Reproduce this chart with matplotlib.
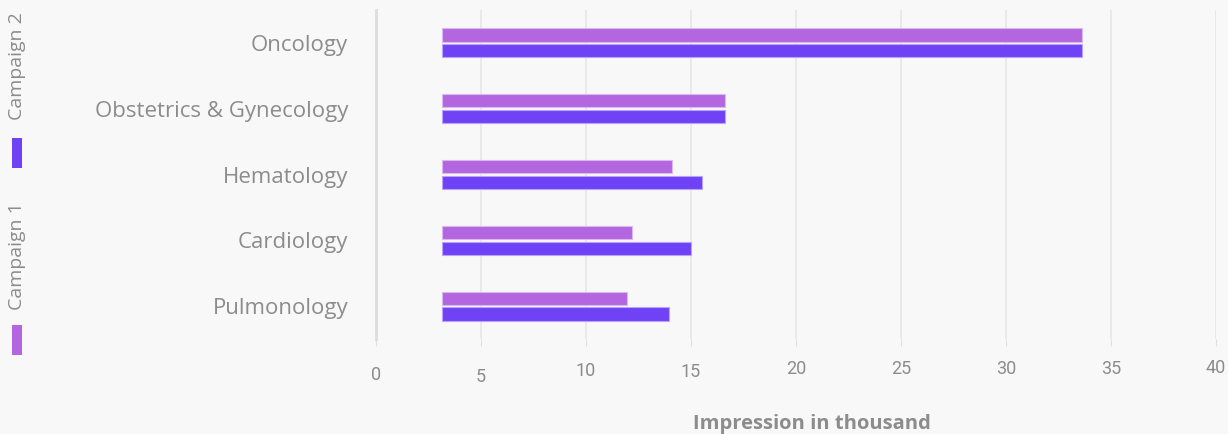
import matplotlib.pyplot as plt
import matplotlib.transforms as mtransforms
from matplotlib.patches import Rectangle
import numpy as np

# data
categories = ['Oncology', 'Obstetrics & Gynecology', 'Hematology', 'Cardiology', 'Pulmonology']
bar_start = [3.15, 3.15, 3.15, 3.15, 3.15]
campaign1 = [33.6, 16.6, 14.1, 12.2, 11.95]
campaign2 = [33.6, 16.6, 15.5, 15.0, 13.95]
series_names = ['Campaign 1', 'Campaign 2']
xticks = [0, 5, 10, 15, 20, 25, 30, 35, 40]

col1 = '#b366e0'
col2 = '#6f42f5'
bg = '#f8f8f8'
txt = '#8c8c8c'

fig = plt.figure(figsize=(12.28, 4.34), dpi=100, facecolor=bg)
ax = fig.add_axes([376 / 1228, 1 - 339 / 434, 840 / 1228, 329 / 434], facecolor=bg)

y = np.arange(len(categories))
h = 0.2
off = 0.12
w1 = np.array(campaign1) - np.array(bar_start)
w2 = np.array(campaign2) - np.array(bar_start)
ax.barh(y - off, w1, left=bar_start, height=h, color=col1, edgecolor='#d9b8f0', linewidth=0.8, zorder=3)
ax.barh(y + off, w2, left=bar_start, height=h, color=col2, edgecolor='#b9a3fa', linewidth=0.8, zorder=3)

ax.set_ylim(len(categories) - 0.5, -0.5)
ax.set_xlim(0, 40)
ax.set_yticks(y)
ax.set_yticklabels(categories, fontsize=16, color=txt, family='Open Sans')
ax.tick_params(axis='y', length=0, pad=20)
ax.set_xticks(xticks)
ax.set_xticklabels([str(t) for t in xticks], fontsize=13, color=txt, family='Roboto')
ax.tick_params(axis='x', length=5, color='#e0e0e0', pad=10)

# slight vertical jitter of the tick labels as in the original
shifts = [6, 8, 2.5, 3, 0, 0.3, 0, 0, -1]
for lab, s in zip(ax.get_xticklabels(), shifts):
    lab.set_transform(lab.get_transform() + mtransforms.ScaledTranslation(0, -s / 100, fig.dpi_scale_trans))

ax.grid(axis='x', color='#e6e6e6', linewidth=1.2, zorder=0)
for sp in ['top', 'right', 'bottom']:
    ax.spines[sp].set_visible(False)
ax.spines['left'].set_color('#dcdcdc')
ax.spines['left'].set_linewidth(2)

fig.text(812 / 1228, 1 - 424 / 434, 'Impression in thousand', ha='center', va='center',
         fontsize=14.5, color=txt, fontweight='bold', family='Open Sans')

# legend on the left, rotated
leg = [(series_names[1], col2, 66, 153), (series_names[0], col1, 256, 340)]
for name, c, ty, sy in leg:
    fig.text(17 / 1228, 1 - ty / 434, name, rotation=90, ha='center', va='center',
             fontsize=14, color=txt, family='Open Sans')
    fig.patches.append(Rectangle((12 / 1228, 1 - (sy + 15) / 434), 10 / 1228, 30 / 434,
                                 transform=fig.transFigure, facecolor=c, edgecolor='none'))

fig.savefig('out.png', dpi=100, facecolor=bg)
